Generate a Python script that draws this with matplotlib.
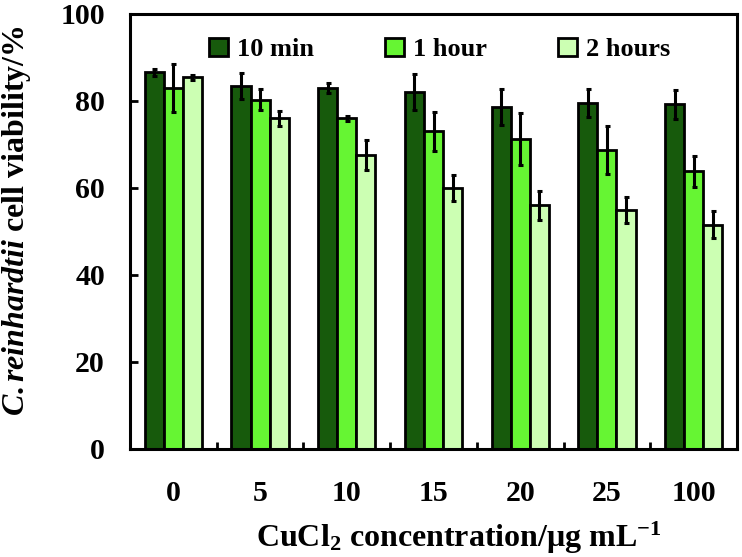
import matplotlib

matplotlib.use("Agg")
import matplotlib.pyplot as plt
import numpy as np

# CuCl2 concentrations (ug/mL) and C. reinhardtii viability (%)
concentrations = ["0", "5", "10", "15", "20", "25", "100"]
series_labels = ["10 min", "1 hour", "2 hours"]
viab_10min = [86.6, 83.5, 83.0, 82.0, 78.6, 79.5, 79.2]
viab_1hour = [83.0, 80.3, 76.0, 73.0, 71.3, 68.8, 63.8]
viab_2hours = [85.4, 76.0, 67.6, 60.0, 56.0, 54.9, 51.6]
err_10min = [0.8, 3.0, 1.2, 4.1, 4.2, 3.2, 3.4]
err_1hour = [5.5, 2.4, 0.5, 4.5, 6.0, 5.5, 3.6]
err_2hours = [0.5, 1.8, 3.5, 3.0, 3.4, 3.0, 3.0]

colors = ["#175a0c", "#66f533", "#ccffb3"]

plt.rcParams.update(
    {
        "font.family": "Liberation Serif",
        "font.weight": "bold",
        "mathtext.fontset": "custom",
        "mathtext.rm": "Liberation Serif:bold",
        "mathtext.it": "Liberation Serif:italic:bold",
        "mathtext.bf": "Liberation Serif:bold",
        "mathtext.default": "regular",
    }
)

fig = plt.figure(figsize=(7.42, 5.57), dpi=100)
ax = fig.add_axes([0.1752, 0.1939, 0.8181, 0.7810])

x = np.arange(len(concentrations))
width = 0.22
values = [viab_10min, viab_1hour, viab_2hours]
errors = [err_10min, err_1hour, err_2hours]
for i, (vals, errs, color, label) in enumerate(zip(values, errors, colors, series_labels)):
    pos = x + (i - 1) * width
    ax.bar(pos, vals, width, color=color, edgecolor="black", linewidth=2.0,
           label=label, zorder=2)
    ax.errorbar(pos, vals, yerr=errs, fmt="none", ecolor="black", elinewidth=2.2,
                capsize=1.8, capthick=2.2, zorder=3)

ax.set_xlim(-0.5, len(concentrations) - 0.5)
ax.set_ylim(0, 100)
ax.set_yticks(np.arange(0, 101, 20))
ax.set_xticks(x)
ax.set_xticklabels(concentrations)
ax.set_xticks(x[:-1] + 0.5, minor=True)
ax.tick_params(axis="x", which="major", length=0, pad=22, labelsize=21.5)
ax.tick_params(axis="x", which="minor", direction="in", length=5, width=2)
ax.tick_params(axis="y", direction="in", length=6, width=2, pad=18, labelsize=21.5)
for lab in ax.get_xticklabels() + ax.get_yticklabels():
    lab.set_fontweight("bold")
for spine in ax.spines.values():
    spine.set_linewidth(2.2)

ax.set_xlabel("CuCl$_{2}$ concentration/\u03bcg mL$^{-1}$", fontsize=23,
              fontweight="bold")
ax.set_ylabel(r"$\mathit{C.reinhardtii}$ cell viability/%", fontsize=23,
              fontweight="bold")
ax.xaxis.set_label_coords(0.542, -0.163)
ax.yaxis.set_label_coords(-0.16, 0.524)

leg = ax.legend(loc="upper center", ncol=3, frameon=False, fontsize=19,
                handlelength=0.7, handleheight=0.7, handletextpad=0.35,
                columnspacing=2.7, bbox_to_anchor=(0.51, 1.0), borderaxespad=0.5)
for t in leg.get_texts():
    t.set_fontweight("bold")

fig.savefig("out.png", dpi=100)
